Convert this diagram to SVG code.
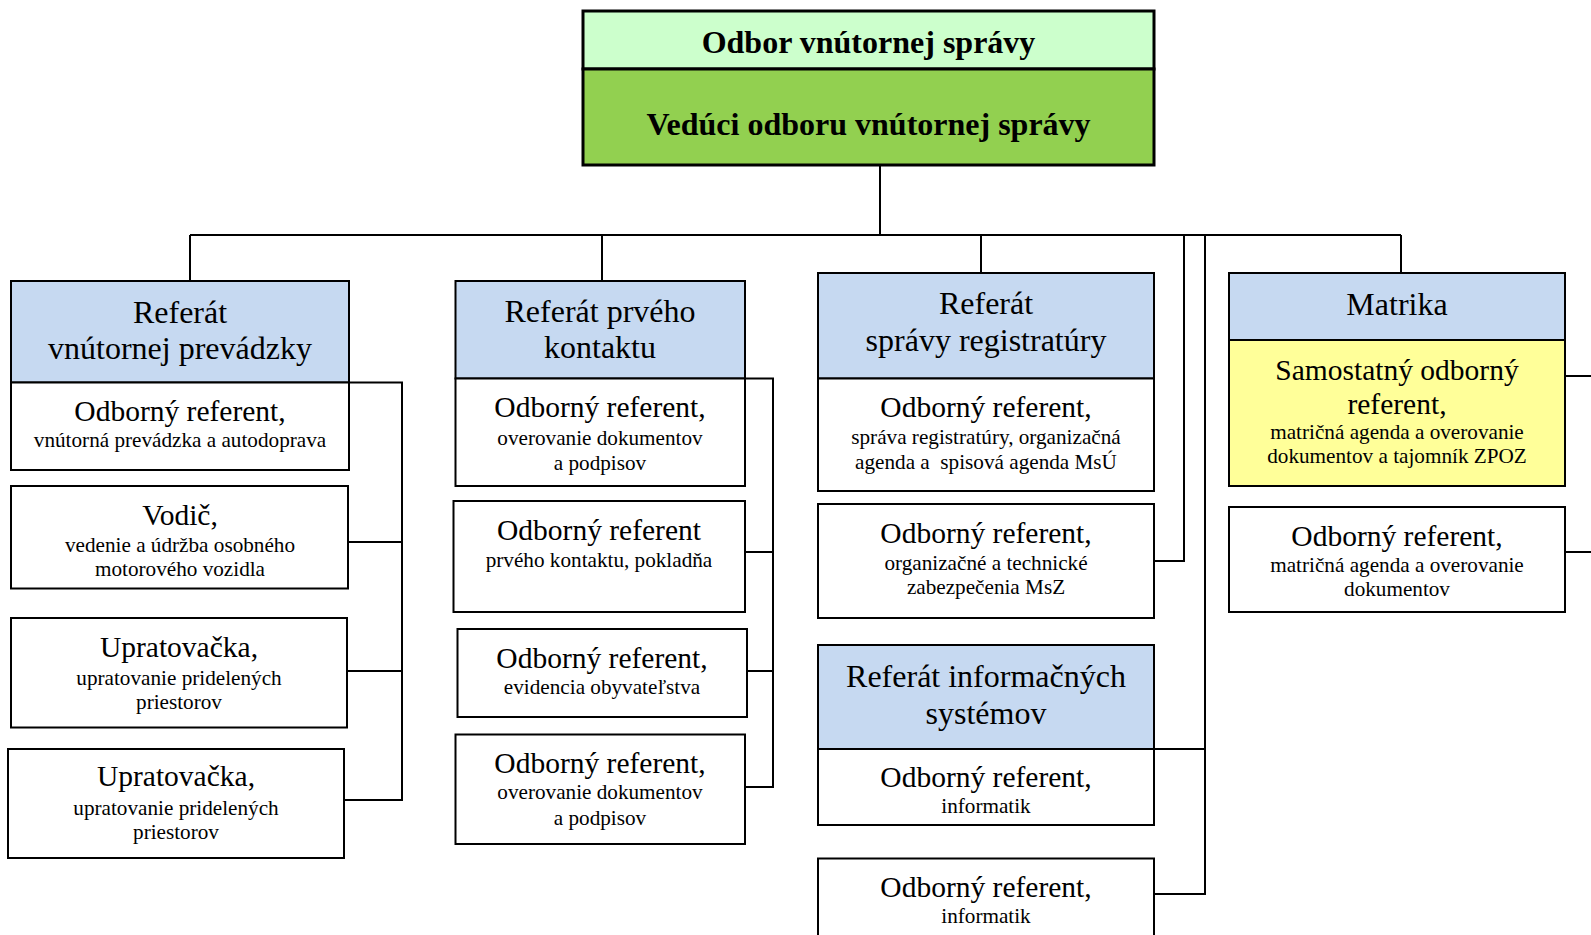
<svg xmlns="http://www.w3.org/2000/svg" width="1591" height="935" viewBox="0 0 1591 935">
<style>
.bx{fill:#ffffff;stroke:#000;stroke-width:2}
.hd{fill:#C6D9F1;stroke:#000;stroke-width:2}
.yl{fill:#FFFF99;stroke:#000;stroke-width:2}
.cn{fill:none;stroke:#000;stroke-width:2}
text{font-family:"Liberation Serif","Times New Roman",serif;fill:#000;text-anchor:middle}
.t{font-size:32px;font-weight:bold}
.h{font-size:32px}
.m{font-size:29.5px}
.s{font-size:21.2px}
</style>
<rect width="1591" height="935" fill="#fff"/>
<g id="connectors">
<path class="cn" d="M880,165 V235 M190,235 H1401 M190,235 V281 M602,235 V281 M981,235 V273 M1401,235 V273 M1184,235 V561 H1154 M1205,235 V894 H1154 M1154,749 H1205"/>
<path class="cn" d="M349,382.5 H402 V800 H344 M348,542 H402 M347,671 H402"/>
<path class="cn" d="M745,378.5 H773 V787 H745 M745,552 H773 M747,671 H773"/>
<path class="cn" d="M1565,376 H1591 M1565,552 H1591"/>
</g>
<g id="top">
<rect x="583" y="11" width="571" height="58" fill="#CCFFCC" stroke="#000" stroke-width="3"/>
<rect x="583" y="69" width="571" height="96" fill="#92D050" stroke="#000" stroke-width="3"/>
<text class="t" x="868.5" y="53">Odbor vnútornej správy</text>
<text class="t" x="868.5" y="135">Vedúci odboru vnútornej správy</text>
</g>
<g id="ref-vnut-prev">
<rect class="hd" x="11" y="281" width="338" height="101.5"/>
<text class="h" x="180" y="323">Referát</text>
<text class="h" x="180" y="359">vnútornej prevádzky</text>
</g>
<g id="c1-or">
<rect class="bx" x="11" y="382.5" width="338" height="87.5"/>
<text class="m" x="180" y="421">Odborný referent,</text>
<text class="s" x="180" y="447">vnútorná prevádzka a autodoprava</text>
</g>
<g id="c1-vodic">
<rect class="bx" x="11" y="486" width="337" height="102.5"/>
<text class="m" x="180" y="524.5">Vodič,</text>
<text class="s" x="180" y="551.5">vedenie a údržba osobného</text>
<text class="s" x="180" y="575.5">motorového vozidla</text>
</g>
<g id="c1-uprat1">
<rect class="bx" x="11" y="618" width="336" height="109.5"/>
<text class="m" x="179" y="656.5">Upratovačka,</text>
<text class="s" x="179" y="684.5">upratovanie pridelených</text>
<text class="s" x="179" y="708.5">priestorov</text>
</g>
<g id="c1-uprat2">
<rect class="bx" x="8" y="749" width="336" height="109"/>
<text class="m" x="176" y="786">Upratovačka,</text>
<text class="s" x="176" y="814.5">upratovanie pridelených</text>
<text class="s" x="176" y="838.5">priestorov</text>
</g>
<g id="ref-prv-kont">
<rect class="hd" x="455.5" y="281" width="289.5" height="97.5"/>
<text class="h" x="600" y="321.5">Referát prvého</text>
<text class="h" x="600" y="358">kontaktu</text>
</g>
<g id="c2-or1">
<rect class="bx" x="455.5" y="378.5" width="289.5" height="107.5"/>
<text class="m" x="600" y="417">Odborný referent,</text>
<text class="s" x="600" y="445">overovanie dokumentov</text>
<text class="s" x="600" y="469.5">a podpisov</text>
</g>
<g id="c2-or2">
<rect class="bx" x="453.5" y="501" width="291.5" height="111"/>
<text class="m" x="599" y="540">Odborný referent</text>
<text class="s" x="599" y="566.5">prvého kontaktu, pokladňa</text>
</g>
<g id="c2-or3">
<rect class="bx" x="457.5" y="629" width="289.5" height="88"/>
<text class="m" x="602" y="667.5">Odborný referent,</text>
<text class="s" x="602" y="693.5">evidencia obyvateľstva</text>
</g>
<g id="c2-or4">
<rect class="bx" x="455.5" y="734.5" width="289.5" height="109.5"/>
<text class="m" x="600" y="773">Odborný referent,</text>
<text class="s" x="600" y="799">overovanie dokumentov</text>
<text class="s" x="600" y="824.5">a podpisov</text>
</g>
<g id="ref-spr-reg">
<rect class="hd" x="818" y="273" width="336" height="105.5"/>
<text class="h" x="986" y="313.5">Referát</text>
<text class="h" x="986" y="351">správy registratúry</text>
</g>
<g id="c3-or1">
<rect class="bx" x="818" y="378.5" width="336" height="112.5"/>
<text class="m" x="986" y="417">Odborný referent,</text>
<text class="s" x="986" y="443.5">správa registratúry, organizačná</text>
<text class="s" x="986" y="468.5" xml:space="preserve">agenda a  spisová agenda MsÚ</text>
</g>
<g id="c3-or2">
<rect class="bx" x="818" y="504" width="336" height="114"/>
<text class="m" x="986" y="543">Odborný referent,</text>
<text class="s" x="986" y="569.5">organizačné a technické</text>
<text class="s" x="986" y="594">zabezpečenia MsZ</text>
</g>
<g id="ref-inf-sys">
<rect class="hd" x="818" y="645" width="336" height="104"/>
<text class="h" x="986" y="687">Referát informačných</text>
<text class="h" x="986" y="723.5">systémov</text>
</g>
<g id="c3-inf1">
<rect class="bx" x="818" y="749" width="336" height="76"/>
<text class="m" x="986" y="787">Odborný referent,</text>
<text class="s" x="986" y="812.5">informatik</text>
</g>
<g id="c3-inf2">
<rect class="bx" x="818" y="858.5" width="336" height="90"/>
<text class="m" x="986" y="897">Odborný referent,</text>
<text class="s" x="986" y="922.5">informatik</text>
</g>
<g id="matrika">
<rect class="hd" x="1229" y="273" width="336" height="67"/>
<text class="h" x="1397" y="314.5">Matrika</text>
</g>
<g id="c4-sor">
<rect class="yl" x="1229" y="340" width="336" height="146"/>
<text class="m" x="1397" y="379.5">Samostatný odborný</text>
<text class="m" x="1397" y="414">referent,</text>
<text class="s" x="1397" y="438.5">matričná agenda a overovanie</text>
<text class="s" x="1397" y="463">dokumentov a tajomník ZPOZ</text>
</g>
<g id="c4-or">
<rect class="bx" x="1229" y="507" width="336" height="105"/>
<text class="m" x="1397" y="546">Odborný referent,</text>
<text class="s" x="1397" y="571.5">matričná agenda a overovanie</text>
<text class="s" x="1397" y="596">dokumentov</text>
</g>
</svg>
